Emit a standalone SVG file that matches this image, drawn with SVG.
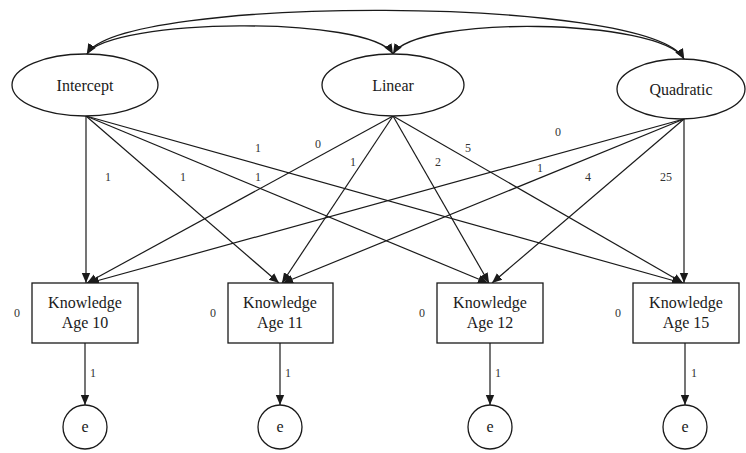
<svg xmlns="http://www.w3.org/2000/svg" width="746" height="453" viewBox="0 0 746 453">
<defs>
<marker id="ah" viewBox="0 0 10 10" refX="10" refY="5" markerWidth="10" markerHeight="10" markerUnits="userSpaceOnUse" orient="auto-start-reverse">
<path d="M0,0.8 L10,5 L0,9.2 Z" fill="#1a1a1a"/>
</marker>
</defs>
<style>
.shape{fill:#fff;stroke:#1a1a1a;stroke-width:1.3}
.lbl{font-family:"Liberation Serif","Times New Roman",serif;font-size:16px;fill:#1a1a1a;text-anchor:middle}
.num{font-family:"Liberation Serif","Times New Roman",serif;font-size:12px;fill:#333;text-anchor:middle}
.edge{fill:none;stroke:#1a1a1a;stroke-width:1.2;marker-end:url(#ah)}
.cov{fill:none;stroke:#1a1a1a;stroke-width:1.4;marker-start:url(#ah);marker-end:url(#ah)}
</style>
<rect width="746" height="453" fill="#fff"/>
<g id="connectors">
<path class="cov" d="M87,54 C120,-5 650,-5 684,59"/>
<path class="cov" d="M87,54 C110,18 370,15 393,54"/>
<path class="cov" d="M393,54 C416,15 660,18 684,59"/>
<path class="edge" d="M86,116 L86,283"/>
<path class="edge" d="M86,116 L279,283"/>
<path class="edge" d="M86,116 L488,283"/>
<path class="edge" d="M86,116 L682,283"/>
<path class="edge" d="M393,116 L87,283"/>
<path class="edge" d="M393,116 L282,283"/>
<path class="edge" d="M393,116 L489,283"/>
<path class="edge" d="M393,116 L683,283"/>
<path class="edge" d="M684,119 L89,283"/>
<path class="edge" d="M684,119 L283,283"/>
<path class="edge" d="M684,119 L492,283"/>
<path class="edge" d="M684,119 L684,283"/>
<path class="edge" d="M85,343 L85,405"/>
<path class="edge" d="M280,343 L280,405"/>
<path class="edge" d="M490,343 L490,405"/>
<path class="edge" d="M685,343 L685,405"/>
<text class="num" x="108" y="181">1</text>
<text class="num" x="183" y="181">1</text>
<text class="num" x="258" y="181">1</text>
<text class="num" x="258" y="152">1</text>
<text class="num" x="318" y="148">0</text>
<text class="num" x="353" y="166">1</text>
<text class="num" x="438" y="166">2</text>
<text class="num" x="468" y="152">5</text>
<text class="num" x="558" y="136">0</text>
<text class="num" x="540" y="172">1</text>
<text class="num" x="588" y="181">4</text>
<text class="num" x="666" y="181">25</text>
<text class="num" x="93" y="377">1</text>
<text class="num" x="288" y="377">1</text>
<text class="num" x="498" y="377">1</text>
<text class="num" x="694" y="377">1</text>
</g>
<g id="intercept"><ellipse class="shape" cx="85" cy="85" rx="73" ry="31"/><text class="lbl" x="85" y="91">Intercept</text></g>
<g id="linear"><ellipse class="shape" cx="393" cy="85" rx="71" ry="31"/><text class="lbl" x="393" y="91">Linear</text></g>
<g id="quadratic"><ellipse class="shape" cx="681" cy="89" rx="64" ry="30"/><text class="lbl" x="681" y="95">Quadratic</text></g>
<g id="age10"><rect class="shape" x="32" y="283" width="106" height="60"/><text class="lbl" x="85" y="308">Knowledge</text><text class="lbl" x="85" y="328">Age 10</text><text class="num" x="17" y="317">0</text></g>
<g id="age11"><rect class="shape" x="228" y="283" width="105" height="60"/><text class="lbl" x="280" y="308">Knowledge</text><text class="lbl" x="280" y="328">Age 11</text><text class="num" x="213" y="317">0</text></g>
<g id="age12"><rect class="shape" x="437" y="283" width="106" height="60"/><text class="lbl" x="490" y="308">Knowledge</text><text class="lbl" x="490" y="328">Age 12</text><text class="num" x="422" y="317">0</text></g>
<g id="age15"><rect class="shape" x="633" y="283" width="106" height="60"/><text class="lbl" x="686" y="308">Knowledge</text><text class="lbl" x="686" y="328">Age 15</text><text class="num" x="618" y="317">0</text></g>
<g id="e10"><circle class="shape" cx="85" cy="427" r="22"/><text class="lbl" x="85" y="432">e</text></g>
<g id="e11"><circle class="shape" cx="280" cy="427" r="22"/><text class="lbl" x="280" y="432">e</text></g>
<g id="e12"><circle class="shape" cx="490" cy="427" r="22"/><text class="lbl" x="490" y="432">e</text></g>
<g id="e15"><circle class="shape" cx="685" cy="427" r="22"/><text class="lbl" x="685" y="432">e</text></g>
</svg>
